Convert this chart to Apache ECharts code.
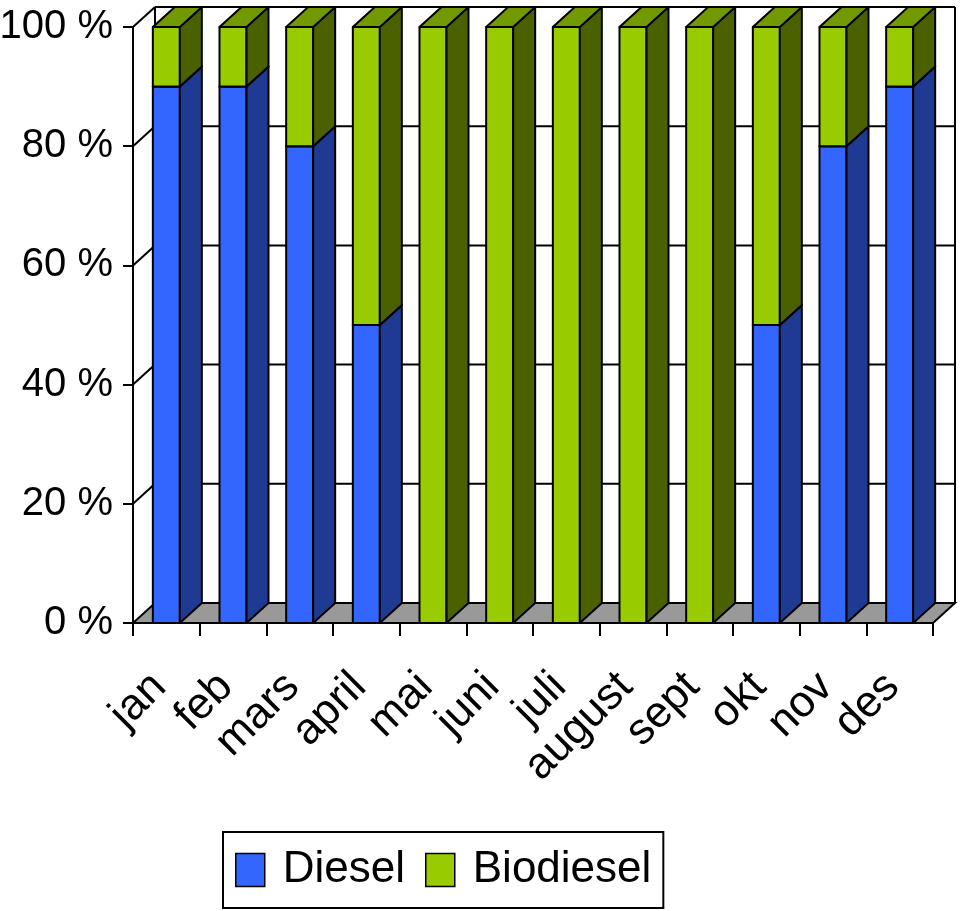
<!DOCTYPE html>
<html>
<head>
<meta charset="utf-8">
<script src="https://cdn.jsdelivr.net/npm/echarts@6/dist/echarts.min.js"></script>
<style>
html,body{margin:0;padding:0;background:#fff;}
#chart{width:960px;height:911px;}
</style>
</head>
<body>
<div id="chart"></div>
<script>
const months = ['jan','feb','mars','april','mai','juni','juli','august','sept','okt','nov','des'];
const diesel = [90,90,80,50,0,0,0,0,0,50,80,90];
const biodiesel = [10,10,20,50,100,100,100,100,100,50,20,10];
const yTicks = [0,20,40,60,80,100];

const FONT = '"Liberation Sans", Arial, Helvetica, sans-serif';
const DX = 22, DY = -20;
const EDGE = '#000';
const EW = 2;

function barRenderer(front, side, top) {
  return function (params, api) {
    const i = api.value(0), lo = api.value(1), hi = api.value(2);
    if (hi <= lo) return null;
    const bw = api.size([1, 0])[0] * 0.405;
    const pLo = api.coord([i, lo]);
    const pHi = api.coord([i, hi]);
    const xl = pLo[0] - bw / 2, xr = pLo[0] + bw / 2;
    const yb = pLo[1], yt = pHi[1];
    const st = (c) => ({ fill: c, stroke: EDGE, lineWidth: EW, lineJoin: 'round' });
    return {
      type: 'group',
      children: [
        { type: 'polygon', shape: { points: [[xl, yb], [xr, yb], [xr, yt], [xl, yt]] }, style: st(front) },
        { type: 'polygon', shape: { points: [[xr, yb], [xr + DX, yb + DY], [xr + DX, yt + DY], [xr, yt]] }, style: st(side) },
        { type: 'polygon', shape: { points: [[xl, yt], [xr, yt], [xr + DX, yt + DY], [xl + DX, yt + DY]] }, style: st(top) }
      ]
    };
  };
}

function wallRenderer(params, api) {
  const v = api.value(1);
  const n = months.length;
  const bw = api.size([1, 0])[0];
  const p0 = api.coord([0, v]);
  const x0 = p0[0] - bw / 2;
  const x1 = api.coord([n - 1, v])[0] + bw / 2;
  const y = p0[1];
  const ls = { stroke: EDGE, lineWidth: EW };
  const children = [];
  if (v === yTicks[0]) {
    children.push({ type: 'polygon', shape: { points: [[x0, y], [x1, y], [x1 + DX, y + DY], [x0 + DX, y + DY]] },
      style: { fill: '#999999', stroke: EDGE, lineWidth: EW } });
  } else {
    children.push({ type: 'line', shape: { x1: x0, y1: y, x2: x0 + DX, y2: y + DY }, style: ls });
    children.push({ type: 'line', shape: { x1: x0 + DX, y1: y + DY, x2: x1 + DX, y2: y + DY }, style: ls });
  }
  if (v === yTicks[yTicks.length - 1]) {
    const yb = api.coord([0, yTicks[0]])[1];
    children.push({ type: 'line', shape: { x1: x0 + DX, y1: yb + DY, x2: x0 + DX, y2: y + DY }, style: ls });
    children.push({ type: 'line', shape: { x1: x1 + DX, y1: yb + DY, x2: x1 + DX, y2: y + DY }, style: ls });
  }
  return { type: 'group', children };
}

const chart = echarts.init(document.getElementById('chart'));
chart.setOption({
  animation: false,
  backgroundColor: '#fff',
  textStyle: { fontFamily: FONT },
  grid: { left: 133, right: 27, top: 27, bottom: 288, containLabel: false, outerBoundsMode: 'none' },
  legend: {
    data: ['Diesel', 'Biodiesel'],
    left: 223, bottom: 3,
    padding: [16, 12, 16, 12],
    itemWidth: 29, itemHeight: 33, itemGap: 20,
    icon: 'rect',
    borderColor: '#000', borderWidth: 2,
    itemStyle: { borderColor: '#000', borderWidth: 1.5 },
    textStyle: { fontFamily: FONT, fontSize: 44, lineHeight: 37, color: '#000', padding: [0, 0, 0, 13] }
  },
  xAxis: {
    type: 'category',
    data: months,
    axisLine: { lineStyle: { color: '#000', width: EW } },
    axisTick: { show: true, length: 13, interval: 0, lineStyle: { color: '#000', width: EW } },
    axisLabel: { interval: 0, rotate: 45, margin: 50, fontSize: 44, color: '#000', fontFamily: FONT, padding: [0, 10, 0, 0] },
    splitLine: { show: false }
  },
  yAxis: {
    type: 'value', min: 0, max: 100, interval: 20,
    axisLine: { show: true, lineStyle: { color: '#000', width: EW } },
    axisTick: { show: true, length: 10, lineStyle: { color: '#000', width: EW } },
    axisLabel: { margin: 20, fontSize: 40, color: '#000', fontFamily: FONT, formatter: (v) => v + ' %' },
    splitLine: { show: false }
  },
  series: [
    {
      type: 'custom', name: 'walls', z: 1, silent: true,
      renderItem: wallRenderer,
      encode: { x: 0, y: 1 },
      data: yTicks.map((v) => [0, v])
    },
    {
      type: 'custom', name: 'Diesel', z: 3,
      itemStyle: { color: '#3366FF' },
      renderItem: barRenderer('#3366FF', '#1F3A93', '#2850C8'),
      encode: { x: 0, y: [1, 2] },
      data: months.map((m, i) => [i, 0, diesel[i]])
    },
    {
      type: 'custom', name: 'Biodiesel', z: 4,
      itemStyle: { color: '#99CC00' },
      renderItem: barRenderer('#99CC00', '#4B6100', '#739900'),
      encode: { x: 0, y: [1, 2] },
      data: months.map((m, i) => [i, diesel[i], diesel[i] + biodiesel[i]])
    }
  ]
});
</script>
</body>
</html>
